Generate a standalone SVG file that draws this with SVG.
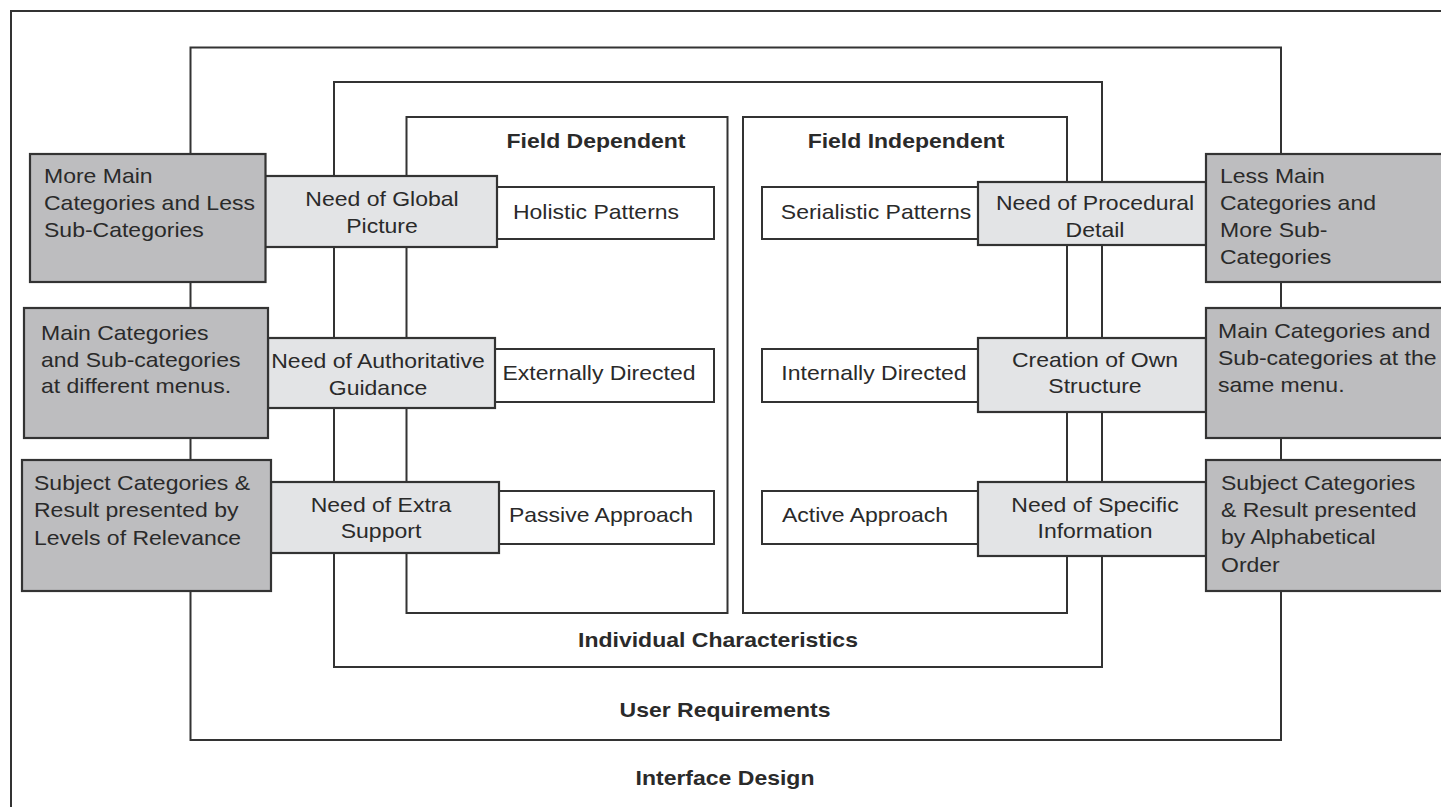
<svg xmlns="http://www.w3.org/2000/svg" width="1441" height="807" viewBox="0 0 1441 807">
<style>
.frame{fill:none;stroke:#333;stroke-width:2}
.dark{fill:#bdbdbf;stroke:#333;stroke-width:2.2}
.light{fill:#e3e4e6;stroke:#333;stroke-width:2.2}
.white{fill:#fff;stroke:#333;stroke-width:2}
text{font-family:"Liberation Sans",Arial,sans-serif;font-size:20px;fill:#2a2a2a}
.b{font-weight:bold}
.m{text-anchor:middle}
</style>
<rect width="1441" height="807" fill="#fff"/>
<g id="interface-design">
<path class="frame" d="M11,820 V11 H1450"/>
<g transform="translate(725,785) scale(1.15,1)"><text class="b m">Interface Design</text></g>
</g>
<g id="user-requirements">
<rect class="frame" x="190.5" y="47.5" width="1090.5" height="692.5"/>
<g transform="translate(725,717) scale(1.15,1)"><text class="b m">User Requirements</text></g>
</g>
<g id="individual-characteristics">
<rect class="frame" x="334" y="82" width="768" height="585"/>
<g transform="translate(718,647) scale(1.15,1)"><text class="b m">Individual Characteristics</text></g>
</g>
<g id="field-dependent">
<rect class="frame" x="406.5" y="117" width="321" height="496"/>
<g transform="translate(596,148) scale(1.15,1)"><text class="b m">Field Dependent</text></g>
</g>
<g id="field-independent">
<rect class="frame" x="743" y="117" width="324" height="496"/>
<g transform="translate(906,148) scale(1.15,1)"><text class="b m">Field Independent</text></g>
</g>
<g id="holistic-patterns">
<rect class="white" x="497" y="187" width="217" height="52"/>
<g transform="translate(596,219) scale(1.15,1)"><text class="m">Holistic Patterns</text></g>
</g>
<g id="externally-directed">
<rect class="white" x="495" y="349" width="219" height="53"/>
<g transform="translate(599,380) scale(1.15,1)"><text class="m">Externally Directed</text></g>
</g>
<g id="passive-approach">
<rect class="white" x="498" y="491" width="216" height="53"/>
<g transform="translate(601,522) scale(1.15,1)"><text class="m">Passive Approach</text></g>
</g>
<g id="serialistic-patterns">
<rect class="white" x="762" y="187" width="216" height="52"/>
<g transform="translate(876,219) scale(1.15,1)"><text class="m">Serialistic Patterns</text></g>
</g>
<g id="internally-directed">
<rect class="white" x="762" y="349" width="216" height="53"/>
<g transform="translate(874,380) scale(1.15,1)"><text class="m">Internally Directed</text></g>
</g>
<g id="active-approach">
<rect class="white" x="762" y="491" width="216" height="53"/>
<g transform="translate(865,522) scale(1.15,1)"><text class="m">Active Approach</text></g>
</g>
<g id="need-global-picture">
<rect class="light" x="265" y="176" width="232" height="71"/>
<g transform="translate(382,206) scale(1.15,1)"><text class="m">Need of Global</text><text class="m" y="27">Picture</text></g>
</g>
<g id="need-authoritative-guidance">
<rect class="light" x="268" y="338" width="227" height="70"/>
<g transform="translate(378,368) scale(1.15,1)"><text class="m">Need of Authoritative</text><text class="m" y="27">Guidance</text></g>
</g>
<g id="need-extra-support">
<rect class="light" x="271" y="482" width="228" height="71"/>
<g transform="translate(381,512) scale(1.15,1)"><text class="m">Need of Extra</text><text class="m" y="26">Support</text></g>
</g>
<g id="need-procedural-detail">
<rect class="light" x="978" y="182" width="228" height="63"/>
<g transform="translate(1095,210) scale(1.15,1)"><text class="m">Need of Procedural</text><text class="m" y="27">Detail</text></g>
</g>
<g id="creation-own-structure">
<rect class="light" x="978" y="338" width="228" height="74"/>
<g transform="translate(1095,367) scale(1.15,1)"><text class="m">Creation of Own</text><text class="m" y="26">Structure</text></g>
</g>
<g id="need-specific-information">
<rect class="light" x="978" y="482" width="228" height="74"/>
<g transform="translate(1095,512) scale(1.15,1)"><text class="m">Need of Specific</text><text class="m" y="26">Information</text></g>
</g>
<g id="more-main-categories">
<rect class="dark" x="30" y="154" width="235.5" height="128"/>
<g transform="translate(44,183) scale(1.15,1)"><text>More Main</text><text y="27">Categories and Less</text><text y="54">Sub-Categories</text></g>
</g>
<g id="different-menus">
<rect class="dark" x="24" y="308" width="244" height="130"/>
<g transform="translate(41,340) scale(1.15,1)"><text>Main Categories</text><text y="27">and Sub-categories</text><text y="53">at different menus.</text></g>
</g>
<g id="levels-of-relevance">
<rect class="dark" x="22" y="460" width="249" height="131"/>
<g transform="translate(34,490) scale(1.15,1)"><text>Subject Categories &amp;</text><text y="27">Result presented by</text><text y="55">Levels of Relevance</text></g>
</g>
<g id="less-main-categories">
<rect class="dark" x="1206" y="154" width="250" height="128"/>
<g transform="translate(1220,183) scale(1.15,1)"><text>Less Main</text><text y="27">Categories and</text><text y="54">More Sub-</text><text y="81">Categories</text></g>
</g>
<g id="same-menu">
<rect class="dark" x="1206" y="308" width="250" height="130"/>
<g transform="translate(1218,338) scale(1.15,1)"><text>Main Categories and</text><text y="27">Sub-categories at the</text><text y="54">same menu.</text></g>
</g>
<g id="alphabetical-order">
<rect class="dark" x="1206" y="460" width="250" height="131"/>
<g transform="translate(1221,490) scale(1.15,1)"><text>Subject Categories</text><text y="27">&amp; Result presented</text><text y="54">by Alphabetical</text><text y="82">Order</text></g>
</g>
</svg>
